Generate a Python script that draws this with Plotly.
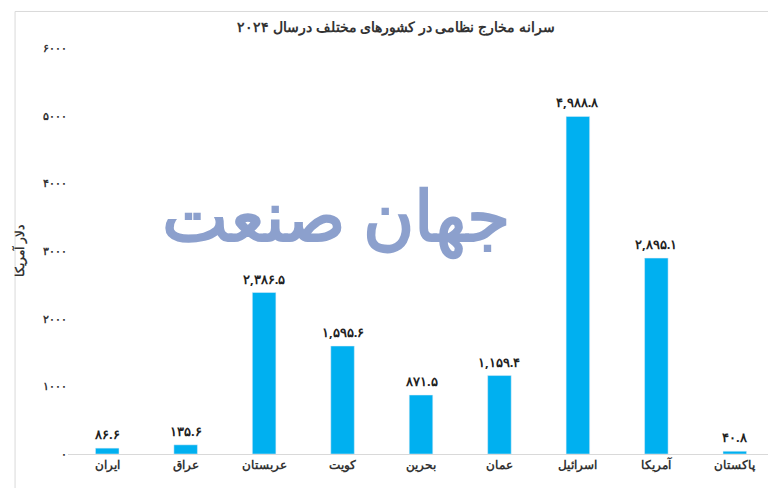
import plotly.graph_objects as go

countries = ['ایران', 'عراق', 'عربستان', 'کویت', 'بحرین', 'عمان', 'اسرائیل', 'آمریکا', 'پاکستان']
spending = [86.6, 135.6, 2386.5, 1595.6, 871.5, 1159.4, 4988.8, 2895.1, 40.8]
y_ticks = [0, 1000, 2000, 3000, 4000, 5000, 6000]

fa_digits = str.maketrans('0123456789', '۰۱۲۳۴۵۶۷۸۹')

def fa(num, decimals=1):
    s = f'{num:,.{decimals}f}'
    return s.translate(fa_digits)

fig = go.Figure(go.Bar(
    x=countries, y=spending,
    marker_color='#00B0F0', width=0.3,
))

# value labels as annotations so they keep their full size
for c, v in zip(countries, spending):
    fig.add_annotation(x=c, y=v, text='<b>' + fa(v) + '</b>', showarrow=False,
                       yanchor='bottom', yshift=3,
                       font=dict(size=13, color='#222', family='Noto Sans'))

fig.add_annotation(text='<b>جهان صنعت</b>', x=0.38, y=0.59, xref='paper', yref='paper',
                   showarrow=False, font=dict(size=70, color='#8096C8', family='Noto Sans'),
                   opacity=0.9)

fig.update_layout(
    width=776, height=488,
    title=dict(text='<b>سرانه مخارج نظامی در کشورهای مختلف درسال ۲۰۲۴</b>', x=0.5, y=0.97,
               font=dict(size=14, color='#333', family='Noto Sans')),
    paper_bgcolor='white', plot_bgcolor='white',
    margin=dict(l=60, r=10, t=40, b=42),
    font=dict(family='Noto Sans', color='#333'),
    showlegend=False,
)
fig.update_xaxes(showline=True, linecolor='#d9d9d9',
                 ticktext=['<b>' + c + '</b>' for c in countries], tickvals=countries,
                 tickfont=dict(size=12, color='#333'))
fig.update_yaxes(range=[0, 6000], tickvals=y_ticks,
                 ticktext=['<b>' + str(t).translate(fa_digits) + '</b>' for t in y_ticks],
                 showgrid=False, zeroline=False, tickfont=dict(size=11, color='#333'),
                 title=dict(text='<b>دلار آمریکا</b>', font=dict(size=12)))
fig.add_shape(type='rect', xref='paper', yref='paper', x0=-0.075, y0=-0.095, x1=1.01, y1=1.09,
              line=dict(color='#d9d9d9', width=1))

fig.write_html('out.html')
